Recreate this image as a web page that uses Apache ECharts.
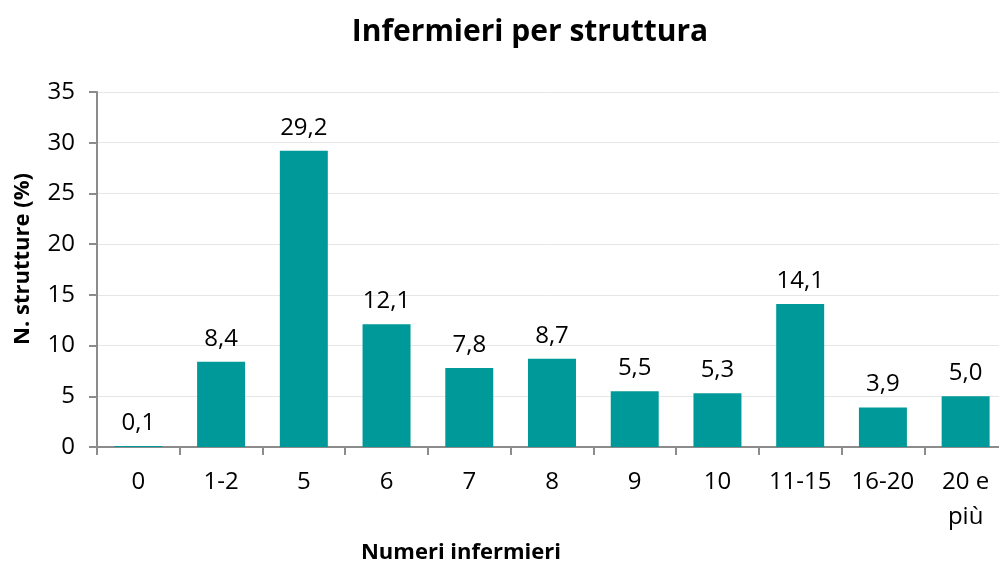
<!DOCTYPE html>
<html>
<head>
<meta charset="utf-8">
<script src="https://cdn.jsdelivr.net/npm/echarts@6/dist/echarts.min.js"></script>
<style>
  html, body { margin: 0; padding: 0; background: #fff; }
  #main { width: 999px; height: 567px; }
</style>
</head>
<body>
<div id="main"></div>
<script>
// dati
var categorie = ['0', '1-2', '5', '6', '7', '8', '9', '10', '11-15', '16-20', '20 e\npiù'];
var valori = [0.1, 8.4, 29.2, 12.1, 7.8, 8.7, 5.5, 5.3, 14.1, 3.9, 5.0];
var tickY = [0, 5, 10, 15, 20, 25, 30, 35];

var font = '"Open Sans", "Noto Sans", sans-serif';

var myChart = echarts.init(document.getElementById('main'));
myChart.setOption({
    animation: false,
    textStyle: { fontFamily: font },
    title: [
        {
            text: 'Infermieri per struttura',
            left: 525,
            top: 12,
            textAlign: 'center',
            textStyle: { fontSize: 30, fontWeight: 'bold', color: '#000', fontFamily: font }
        },
        {
            text: 'Numeri infermieri',
            left: 456,
            top: 537,
            textAlign: 'center',
            textStyle: { fontSize: 22, fontWeight: 'bold', color: '#000', fontFamily: font }
        }
    ],
    // titolo asse Y
    graphic: [{
        type: 'text',
        x: 23,
        y: 259,
        rotation: Math.PI / 2,
        style: {
            text: 'N. strutture (%)',
            fontSize: 22,
            fontWeight: 'bold',
            fontFamily: font,
            fill: '#000',
            align: 'center',
            verticalAlign: 'middle'
        }
    }],
    // l'ultima categoria esce un po' dal bordo destro
    grid: { left: 97, top: 92, width: 910, bottom: 120, outerBoundsMode: 'none', containLabel: false },
    xAxis: {
        type: 'category',
        data: categorie,
        axisLine: { lineStyle: { color: '#8c8c8c', width: 2 } },
        axisTick: { show: true, length: 8, lineStyle: { color: '#8c8c8c', width: 2 } },
        axisLabel: { color: '#000', fontSize: 24, margin: 18, lineHeight: 35, fontFamily: font }
    },
    yAxis: {
        type: 'value',
        min: tickY[0],
        max: tickY[tickY.length - 1],
        interval: 5,
        axisLine: { show: true, lineStyle: { color: '#8c8c8c', width: 2 } },
        axisTick: { show: true, length: 8, lineStyle: { color: '#8c8c8c', width: 2 } },
        axisLabel: { color: '#000', fontSize: 24, margin: 22, fontFamily: font },
        splitLine: { show: true, lineStyle: { color: '#e6e6e6', width: 1 } }
    },
    series: [{
        type: 'bar',
        data: valori,
        barWidth: '58%',
        itemStyle: { color: '#009999' },
        label: {
            show: true,
            position: 'top',
            distance: 11,
            color: '#000',
            fontSize: 24,
            fontFamily: font,
            formatter: function (p) {
                return p.value.toFixed(1).replace('.', ',');
            }
        }
    }]
});
</script>
</body>
</html>
